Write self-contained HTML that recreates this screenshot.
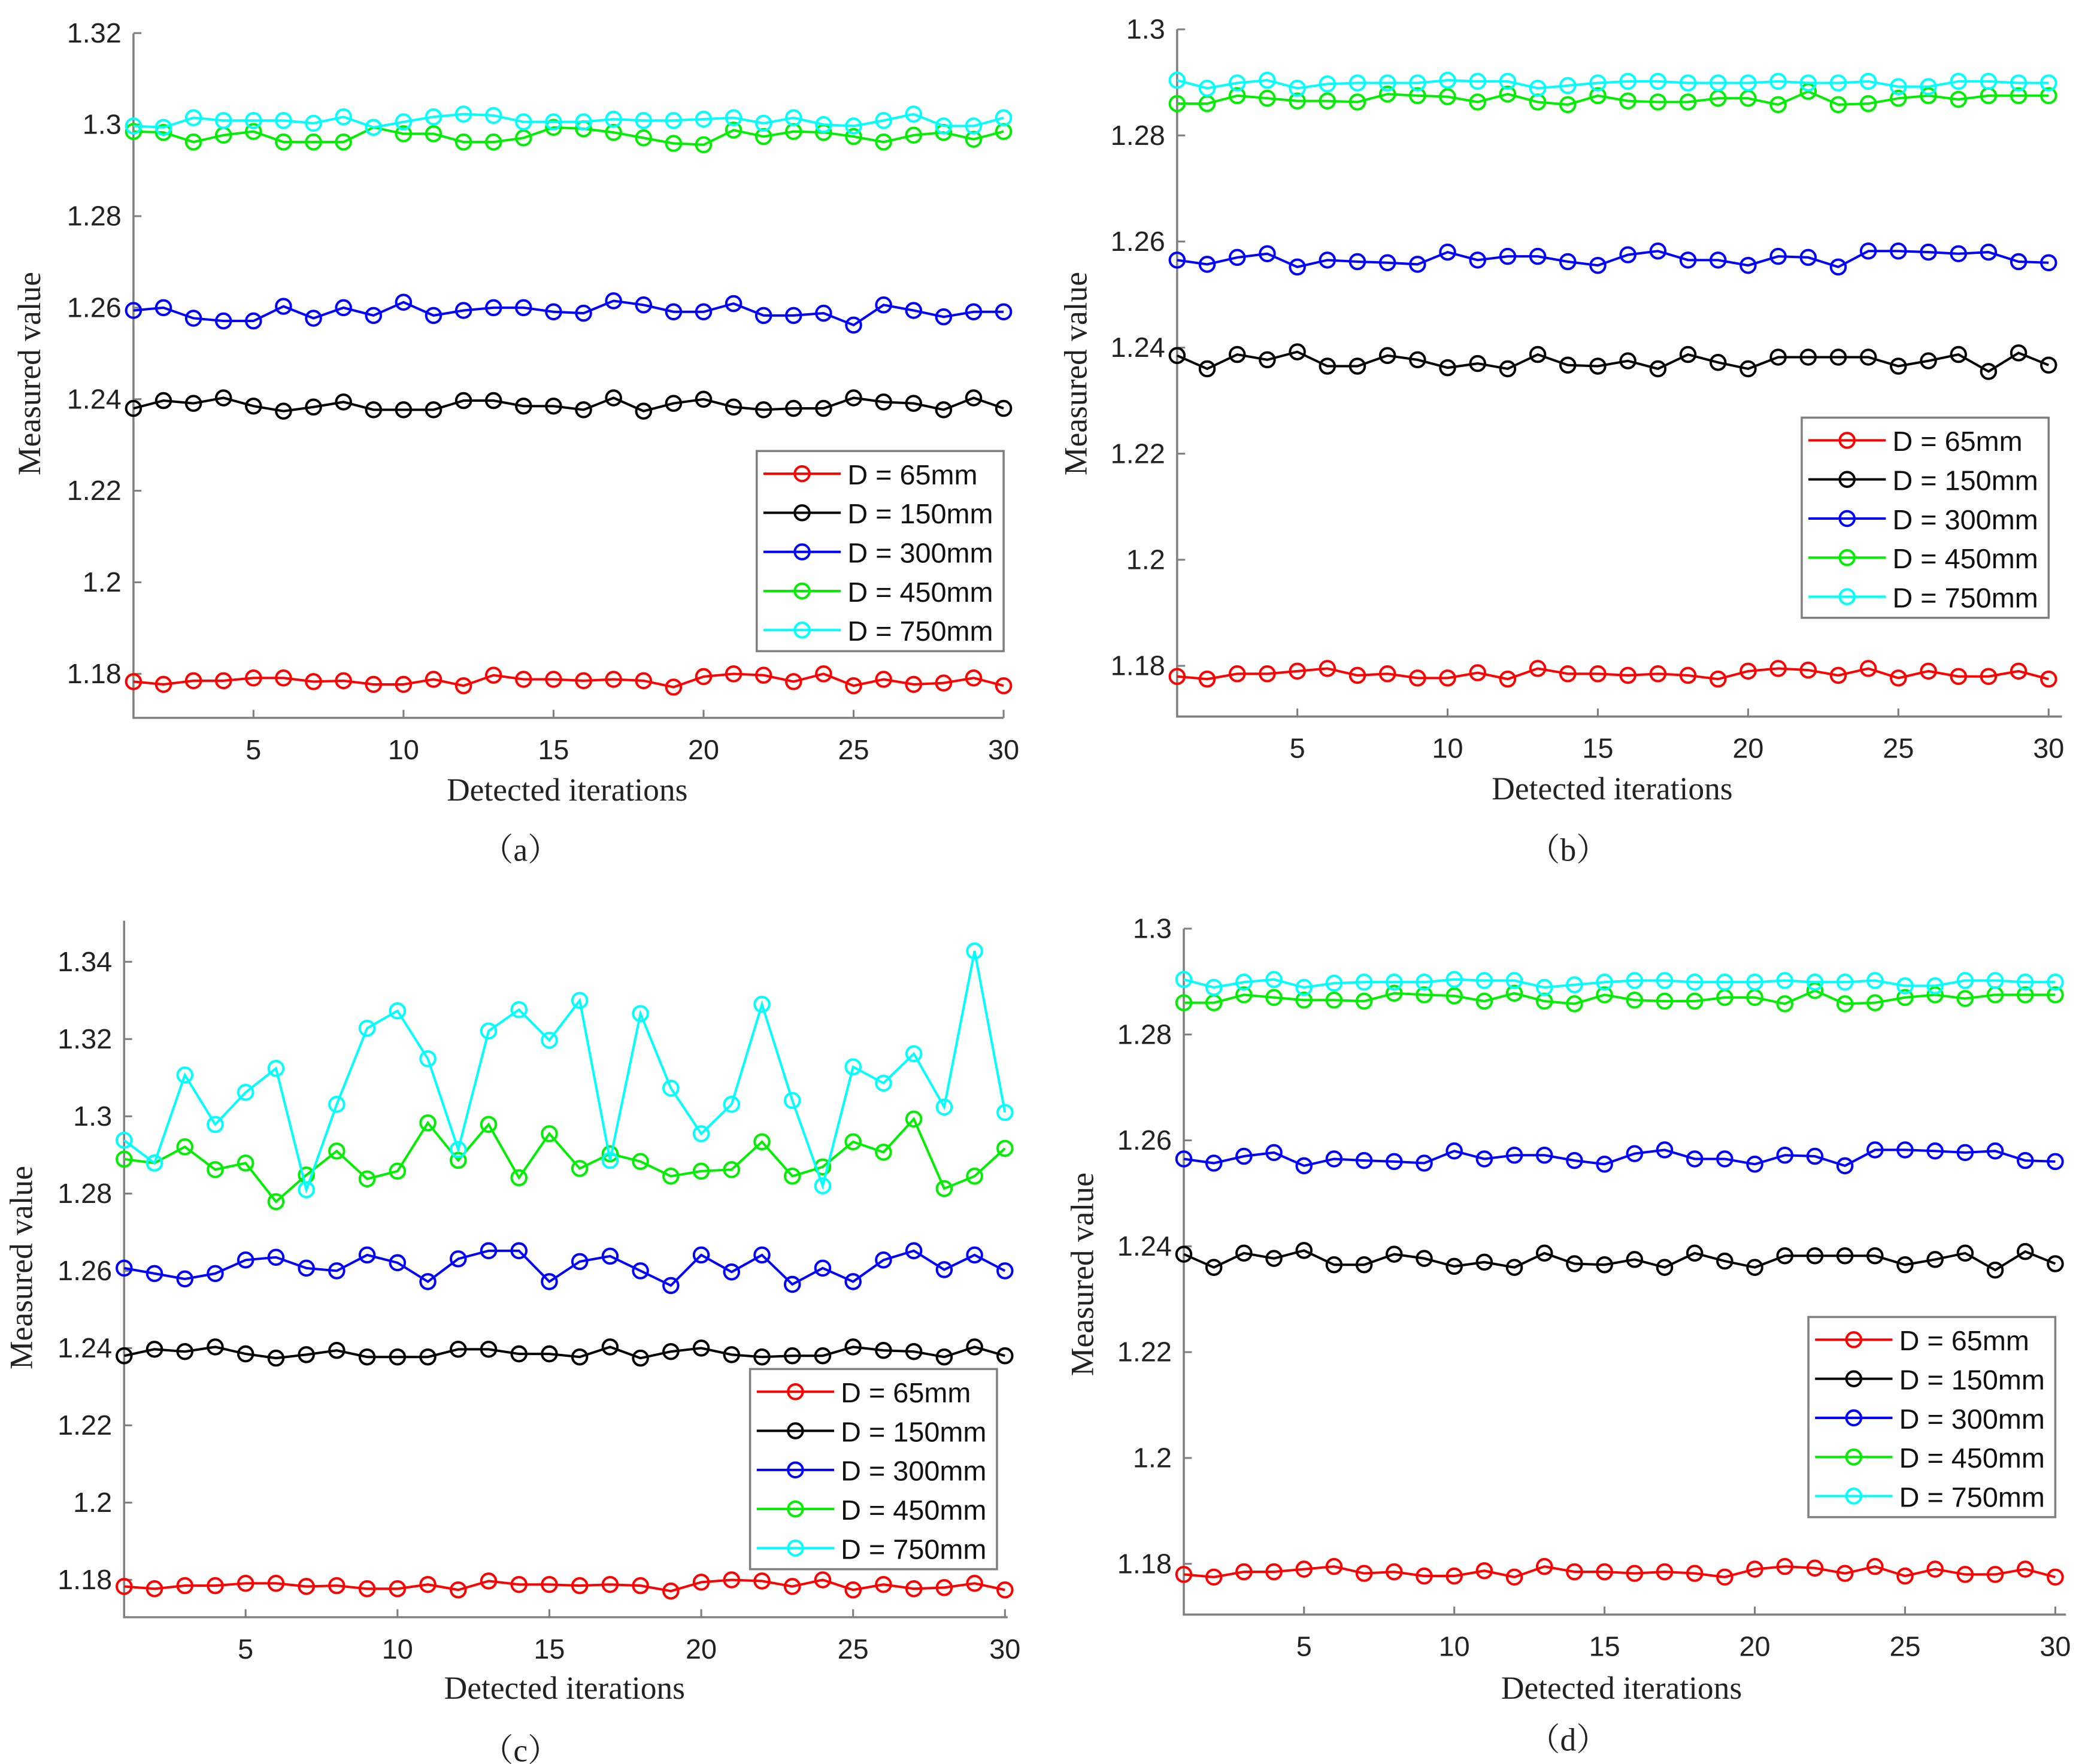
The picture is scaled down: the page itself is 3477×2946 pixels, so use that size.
<!DOCTYPE html>
<html><head><meta charset="utf-8"><style>
html,body{margin:0;padding:0;background:#fff}
svg{display:block}
.tk{font-family:"Liberation Sans",sans-serif;font-size:21px;fill:#222}
.lb{font-family:"Liberation Serif","Noto Serif CJK SC",serif;font-size:24px;fill:#222}
.lg{font-family:"Liberation Sans",sans-serif;font-size:21px;fill:#111}
</style></head><body>
<svg id="chart" width="3477" height="2946" viewBox="0 0 1560 1322" preserveAspectRatio="none" xmlns="http://www.w3.org/2000/svg"></svg>
<script>
const iterations=[1,2,3,4,5,6,7,8,9,10,11,12,13,14,15,16,17,18,19,20,21,22,23,24,25,26,27,28,29,30];
const seriesNames=["D = 65mm","D = 150mm","D = 300mm","D = 450mm","D = 750mm"];
const seriesColors=["#ff0000","#000000","#0000ff","#00ee00","#00ffff"];
const xTicks=[5,10,15,20,25,30];
const yTicksA=[1.18,1.2,1.22,1.24,1.26,1.28,1.3,1.32];
const yTicksB=[1.18,1.2,1.22,1.24,1.26,1.28,1.3];
const yTicksC=[1.18,1.2,1.22,1.24,1.26,1.28,1.3,1.32,1.34];
const redA=[1.1783,1.1777,1.1785,1.1785,1.1791,1.1791,1.1783,1.1785,1.1777,1.1777,1.1788,1.1774,1.1797,1.1788,1.1788,1.1785,1.1788,1.1785,1.1771,1.1794,1.18,1.1797,1.1783,1.18,1.1774,1.1788,1.1777,1.178,1.1791,1.1774];
const blackA=[1.238,1.2397,1.2391,1.2403,1.2385,1.2374,1.2383,1.2394,1.2377,1.2377,1.2377,1.2397,1.2397,1.2385,1.2385,1.2377,1.2403,1.2374,1.2391,1.24,1.2383,1.2377,1.238,1.238,1.2403,1.2394,1.2391,1.2377,1.2403,1.238];
const blueA=[1.2594,1.26,1.2577,1.2571,1.2571,1.2603,1.2577,1.26,1.2583,1.2612,1.2583,1.2594,1.26,1.26,1.2591,1.2588,1.2615,1.2606,1.2591,1.2591,1.2609,1.2583,1.2583,1.2588,1.2562,1.2606,1.2594,1.258,1.2591,1.2591];
const greenA=[1.2985,1.2983,1.2962,1.2977,1.2985,1.2962,1.2962,1.2962,1.2994,1.298,1.298,1.2962,1.2962,1.2971,1.2994,1.2991,1.2983,1.2971,1.2959,1.2956,1.2988,1.2974,1.2985,1.2983,1.2974,1.2962,1.2977,1.2983,1.2968,1.2985];
const cyanA=[1.2997,1.2994,1.3015,1.3009,1.3009,1.3009,1.3003,1.3017,1.2994,1.3006,1.3017,1.3023,1.302,1.3006,1.3006,1.3006,1.3012,1.3009,1.3009,1.3012,1.3015,1.3003,1.3015,1.3,1.2997,1.3009,1.3023,1.2997,1.2997,1.3015];
const redB=[1.178,1.1775,1.1785,1.1785,1.179,1.1795,1.1782,1.1785,1.1777,1.1777,1.1787,1.1775,1.1795,1.1785,1.1785,1.1782,1.1785,1.1782,1.1775,1.179,1.1795,1.1792,1.1782,1.1795,1.1777,1.179,1.178,1.178,1.179,1.1775];
const blackB=[1.2385,1.236,1.2387,1.2377,1.2392,1.2365,1.2365,1.2385,1.2377,1.2362,1.237,1.236,1.2387,1.2367,1.2365,1.2375,1.236,1.2387,1.2372,1.236,1.2382,1.2382,1.2382,1.2382,1.2365,1.2375,1.2387,1.2355,1.239,1.2367];
const blueB=[1.2565,1.2557,1.257,1.2577,1.2552,1.2565,1.2562,1.256,1.2557,1.258,1.2565,1.2572,1.2572,1.2562,1.2555,1.2575,1.2582,1.2565,1.2565,1.2555,1.2572,1.257,1.2552,1.2582,1.2582,1.258,1.2577,1.258,1.2562,1.256];
const greenB=[1.286,1.286,1.2875,1.287,1.2865,1.2865,1.2863,1.2878,1.2875,1.2873,1.2863,1.2878,1.2863,1.2858,1.2875,1.2865,1.2863,1.2863,1.287,1.287,1.2858,1.2883,1.2858,1.286,1.287,1.2875,1.2868,1.2875,1.2875,1.2875];
const cyanB=[1.2904,1.2889,1.2899,1.2904,1.2889,1.2897,1.2899,1.2899,1.2899,1.2904,1.2902,1.2902,1.2889,1.2894,1.2899,1.2902,1.2902,1.2899,1.2899,1.2899,1.2902,1.2899,1.2899,1.2902,1.2892,1.2892,1.2902,1.2902,1.2899,1.2899];
const greenC=[1.2889,1.2879,1.2921,1.2862,1.2879,1.2779,1.2848,1.291,1.2838,1.2858,1.2983,1.2886,1.2979,1.2841,1.2955,1.2865,1.2903,1.2883,1.2845,1.2858,1.2862,1.2934,1.2845,1.2869,1.2934,1.2907,1.2993,1.2813,1.2845,1.2917];
const cyanC=[1.2938,1.2879,1.3107,1.2979,1.3062,1.3124,1.281,1.3031,1.3228,1.3273,1.3149,1.2914,1.3221,1.3276,1.3197,1.33,1.2886,1.3266,1.3073,1.2955,1.3031,1.329,1.3041,1.282,1.3128,1.3086,1.3162,1.3024,1.3428,1.301];
const blueC=[1.2607,1.2593,1.2579,1.2593,1.2628,1.2635,1.2607,1.26,1.2641,1.2621,1.2572,1.2631,1.2652,1.2652,1.2572,1.2624,1.2638,1.26,1.2562,1.2641,1.2597,1.2641,1.2565,1.2607,1.2572,1.2628,1.2652,1.2603,1.2641,1.26];

const NS="http://www.w3.org/2000/svg";
const svg=document.getElementById('chart');
function mk(tag,attrs,parent,text){const e=document.createElementNS(NS,tag);for(const k in attrs)e.setAttribute(k,attrs[k]);if(text!==undefined)e.textContent=text;(parent||svg).appendChild(e);return e;}

const panels=[
 {id:'a',x1:100,x30:752,axR:752,axT:25,axB:538,ty0:1.18,py0:505,k:3430,ticks:yTicksA,data:[redA,blackA,blueA,greenA,cyanA],leg:[567,338],ylx:30,yly:280,xly:592,xlx:425,cap:[390,636]},
 {id:'b',x1:882,x30:1535,axR:1545,axT:22,axB:537,ty0:1.18,py0:499,k:3975,ticks:yTicksB,data:[redB,blackB,blueB,greenB,cyanB],leg:[1350,313],ylx:814,yly:280,xly:591,xlx:1208,cap:[1175,636]},
 {id:'c',x1:93,x30:753,axR:755,axT:690,axB:1212,ty0:1.18,py0:1184,k:2895,ticks:yTicksC,data:[redA,blackA,blueC,greenC,cyanC],leg:[562,1026],ylx:24,yly:950,xly:1265,xlx:423,cap:[390,1311]},
 {id:'d',x1:887,x30:1540,axR:1548,axT:696,axB:1210,ty0:1.18,py0:1172,k:3967,ticks:yTicksB,data:[redB,blackB,blueB,greenB,cyanB],leg:[1355,987],ylx:819,yly:955,xly:1265,xlx:1215,cap:[1175,1303]}
];

panels.forEach(p=>{
 const g=mk('g',{});
 
 
 const xs=v=>p.x1+(v-1)*(p.x30-p.x1)/29;
 const ys=v=>p.py0-(v-p.ty0)*p.k;
 const axis=mk('path',{d:`M${p.x1},${p.axT}V${p.axB}H${p.axR}`,fill:'none',stroke:'#808080','stroke-width':1.6},g);
 
 
 p.ticks.forEach(t=>{
  const y=ys(t);
  mk('line',{x1:p.x1,x2:p.x1+6,y1:y,y2:y,stroke:'#808080','stroke-width':1.4},g);
  const tl=mk('text',{x:p.x1-9,y:y+7,'text-anchor':'end',class:'tk'},g,String(t));
  
  
 });
 xTicks.forEach(t=>{
  const x=xs(t);
  mk('line',{x1:x,x2:x,y1:p.axB,y2:p.axB-6,stroke:'#808080','stroke-width':1.4},g);
  const tl=mk('text',{x:x,y:p.axB+31,'text-anchor':'middle',class:'tk'},g,String(t));
  
  
 });
 p.data.forEach((arr,si)=>{
  const sg=mk('g',{},g);
  
  
  const pts=arr.map((v,i)=>xs(iterations[i])+','+ys(v)).join(' ');
  mk('polyline',{points:pts,fill:'none',stroke:seriesColors[si],'stroke-width':1.8},sg);
  arr.forEach((v,i)=>{
   const c=mk('circle',{cx:xs(iterations[i]),cy:ys(v),r:5.5,fill:'none',stroke:seriesColors[si],'stroke-width':1.8},sg);
   
   
  });
 });
 const lg=mk('g',{},g);
 
 
 const [lx,ly]=p.leg;
 mk('rect',{x:lx,y:ly,width:185,height:150,fill:'#fff',stroke:'#808080','stroke-width':1.6},lg);
 seriesNames.forEach((n,i)=>{
  const ry=ly+17+i*29.3;
  const e=mk('g',{},lg);
  
  
  mk('line',{x1:lx+5,x2:lx+63,y1:ry,y2:ry,stroke:seriesColors[i],'stroke-width':1.8},e);
  mk('circle',{cx:lx+34,cy:ry,r:5.5,fill:'none',stroke:seriesColors[i],'stroke-width':1.8},e);
  mk('text',{x:lx+68,y:ry+8,class:'lg'},e,n);
 });
 const yl=mk('text',{x:p.ylx,y:p.yly,'text-anchor':'middle',class:'lb',transform:`rotate(-90 ${p.ylx} ${p.yly})`},g,'Measured value');
 
 
 const xl=mk('text',{x:p.xlx,y:p.xly+8,'text-anchor':'middle',class:'lb'},g,'Detected iterations');
 
 
 const cp=mk('text',{x:p.cap[0],y:p.cap[1]+9,'text-anchor':'middle',class:'lb'},g,'（'+p.id+'）');
 
 
});
</script>
</body></html>
